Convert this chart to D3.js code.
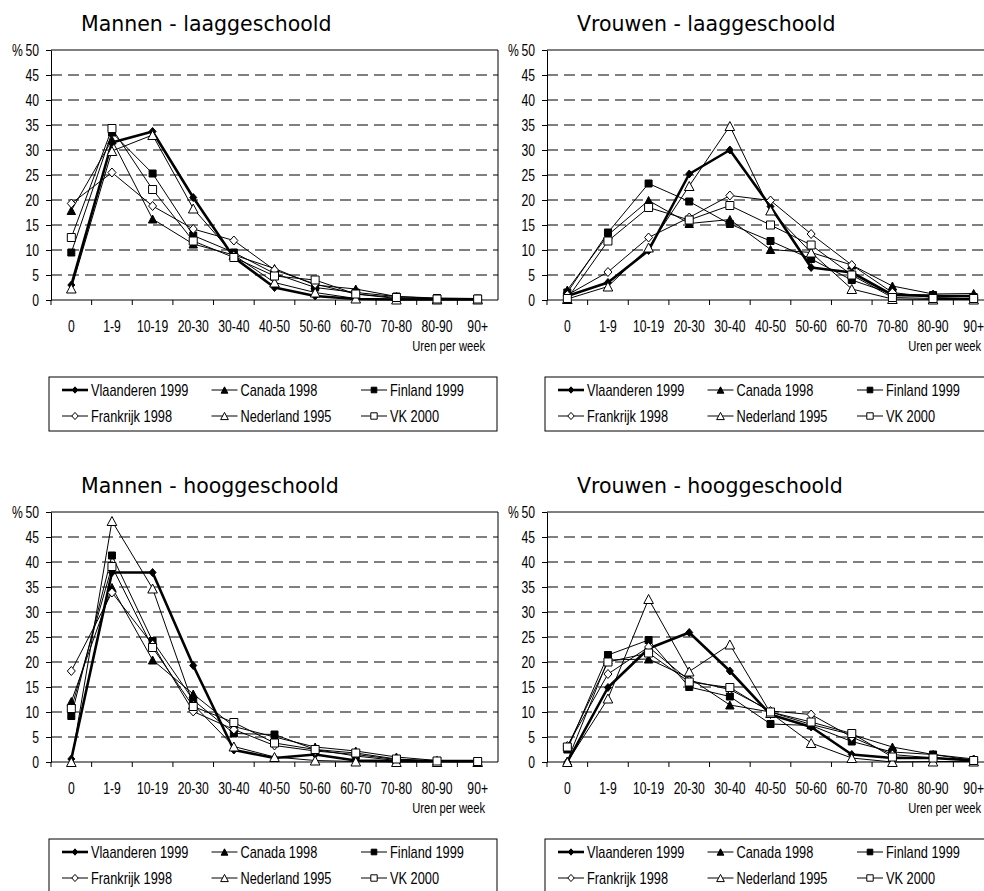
<html lang="nl">
<head>
<meta charset="utf-8">
<style>
body { margin: 0; background: #fff; }
svg text { fill: #000; }
</style>
</head>
<body>
</body>
<script type='text/javascript' src='https://d3js.org/d3.v7.min.js'></script>
<script>
var width = 984, height = 891;

// categorieen (uren per week)
const categories = ['0','1-9','10-19','20-30','30-40','40-50','50-60','60-70','70-80','80-90','90+'];
const seriesNames = ['Vlaanderen 1999','Canada 1998','Finland 1999','Frankrijk 1998','Nederland 1995','VK 2000'];
const yTicks = [0,5,10,15,20,25,30,35,40,45,50];
const titles = ['Mannen - laaggeschoold','Vrouwen - laaggeschoold','Mannen - hooggeschoold','Vrouwen - hooggeschoold'];

// rijen in de volgorde van seriesNames
const mannenLaag = [
  [3.0, 31.5, 33.7, 20.5, 8.5, 2.5, 0.8, 0.2, 0.1, 0.1, 0.1],
  [17.9, 32.0, 16.2, 11.2, 9.0, 6.3, 3.0, 2.2, 0.7, 0.3, 0.2],
  [9.5, 33.5, 25.3, 12.9, 9.5, 5.3, 2.5, 1.5, 0.7, 0.4, 0.3],
  [19.3, 25.5, 18.8, 14.2, 11.9, 6.0, 3.2, 1.2, 0.3, 0.1, 0.1],
  [2.3, 29.8, 33.0, 18.3, 9.0, 3.5, 1.5, 0.3, 0.1, 0.1, 0.1],
  [12.5, 34.3, 22.1, 11.8, 8.5, 4.8, 4.0, 1.2, 0.5, 0.2, 0.2]
];
const vrouwenLaag = [
  [0.8, 3.5, 9.9, 25.2, 30.0, 18.7, 6.5, 5.5, 1.0, 0.8, 0.8],
  [2.0, 13.0, 19.9, 15.3, 16.1, 10.1, 9.5, 7.0, 2.8, 1.2, 1.3],
  [1.5, 13.5, 23.3, 19.7, 15.2, 11.8, 8.2, 4.0, 1.2, 1.0, 0.6],
  [1.0, 5.6, 12.5, 16.5, 20.9, 19.9, 13.2, 7.0, 1.5, 0.5, 0.3],
  [0.2, 2.7, 10.5, 22.8, 34.8, 17.9, 9.5, 2.2, 0.2, 0.1, 0.1],
  [0.3, 11.8, 18.5, 16.0, 18.9, 15.0, 11.0, 5.0, 0.5, 0.3, 0.3]
];
const mannenHoog = [
  [0.6, 37.9, 37.9, 19.3, 2.4, 0.8, 1.5, 0.3, 0.2, 0.2, 0.2],
  [12.1, 34.9, 20.4, 13.6, 7.1, 5.0, 3.0, 2.2, 1.0, 0.3, 0.2],
  [9.2, 41.3, 24.2, 12.4, 5.7, 5.5, 2.5, 1.2, 0.3, 0.2, 0.2],
  [18.2, 33.9, 23.5, 10.1, 6.5, 3.3, 2.2, 1.5, 0.5, 0.2, 0.1],
  [0.0, 48.2, 34.7, 11.5, 3.1, 1.0, 0.3, 0.1, 0.0, 0.0, 0.0],
  [10.7, 39.1, 22.9, 11.1, 7.9, 3.8, 2.5, 1.8, 0.6, 0.2, 0.1]
];
const vrouwenHoog = [
  [0.0, 14.9, 22.7, 25.9, 18.2, 9.5, 7.0, 1.5, 0.8, 0.8, 0.3],
  [0.2, 20.4, 20.6, 16.8, 11.4, 10.0, 7.5, 5.5, 3.0, 1.5, 0.6],
  [2.5, 21.4, 24.4, 15.0, 13.1, 7.6, 7.3, 4.1, 2.0, 1.5, 0.3],
  [3.2, 17.6, 23.0, 16.3, 14.5, 10.2, 9.5, 5.0, 1.5, 0.8, 0.5],
  [0.0, 12.7, 32.6, 18.1, 23.5, 9.8, 3.8, 0.8, 0.0, 0.1, 0.1],
  [3.0, 20.0, 21.8, 16.0, 14.9, 10.0, 8.0, 5.7, 1.0, 0.8, 0.3]
];

var numFont = '"Liberation Sans", Arial, sans-serif';
var squeeze = 0.76;

// marker shapes: [type, filled, halfW, halfH]
var markers = [
  ['diamond', true, 3.5, 4],
  ['triangle', true, 4.2, 4],
  ['square', true, 3.5, 3.5],
  ['diamond', false, 4, 4.5],
  ['triangle', false, 4.8, 4.5],
  ['square', false, 4, 4]
];
var lineWidths = [2.6, 1, 1, 1, 1, 1];

function markerPath(type, w, h) {
  if (type == 'diamond') return 'M0,' + (-h) + 'L' + w + ',0L0,' + h + 'L' + (-w) + ',0Z';
  if (type == 'triangle') return 'M0,' + (-h) + 'L' + w + ',' + h + 'L' + (-w) + ',' + h + 'Z';
  return 'M' + (-w) + ',' + (-h) + 'H' + w + 'V' + h + 'H' + (-w) + 'Z';
}

var svg = d3.select('body').append('svg').attr('width', width).attr('height', height);

var plotW = 447, plotH = 250;
var panelData = [mannenLaag, vrouwenLaag, mannenHoog, vrouwenHoog];

panelData.forEach(function(data, p) {
  var dx = (p % 2) * 496, dy = Math.floor(p / 2) * 462;
  var g = svg.append('g').attr('transform', 'translate(' + (51 + dx) + ',' + (50 + dy) + ')');

  var x = d3.scaleBand().domain(categories).range([0, plotW]);
  var y = d3.scaleLinear().domain([0, 50]).range([plotH, 0]);
  var cx = function(i) { return x(categories[i]) + x.bandwidth() / 2; };

  // title
  g.append('text').attr('x', 30).attr('y', -19)
    .style('font-family', '"DejaVu Sans", Verdana, sans-serif')
    .style('font-size', '20.5px')
    .text(titles[p]);

  // dashed gridlines
  g.selectAll('.grid').data(yTicks.filter(function(d) { return d > 0 && d < 50; }))
    .join('line').attr('class', 'grid')
    .attr('x1', 0).attr('x2', plotW)
    .attr('y1', function(d) { return y(d); }).attr('y2', function(d) { return y(d); })
    .attr('stroke', '#000').attr('stroke-width', 1).attr('stroke-dasharray', '11,6');

  // frame top + right
  g.append('path').attr('d', 'M0,0H' + plotW + 'V' + plotH)
    .attr('fill', 'none').attr('stroke', '#000');

  // y axis
  var ya = g.append('g').call(d3.axisLeft(y).tickValues(yTicks).tickSize(5).tickSizeOuter(0));
  ya.select('.domain').attr('stroke', '#000');
  ya.selectAll('text')
    .attr('x', -12 / squeeze).attr('dy', '0.36em')
    .attr('transform', 'scale(' + squeeze + ',1)')
    .style('font-family', numFont).style('font-size', '16px');
  g.append('text').attr('transform', 'translate(-39,' + y(50) + ') scale(' + squeeze + ',1)')
    .attr('dy', '0.36em')
    .style('font-family', numFont).style('font-size', '16px')
    .text('%');

  // x axis: labels centred, ticks on the category boundaries
  var xa = g.append('g').attr('transform', 'translate(0,' + plotH + ')')
    .call(d3.axisBottom(x).tickSize(0));
  xa.select('.domain').remove();
  xa.selectAll('text').attr('y', 32).attr('dy', 0)
    .attr('transform', 'scale(' + squeeze + ',1)')
    .style('font-family', numFont).style('font-size', '16px');
  g.append('line').attr('x1', 0).attr('x2', plotW).attr('y1', plotH).attr('y2', plotH).attr('stroke', '#000');
  g.selectAll('.xtick').data(categories).join('line').attr('class', 'xtick')
    .attr('x1', function(d) { return x(d); }).attr('x2', function(d) { return x(d); })
    .attr('y1', plotH).attr('y2', plotH + 5).attr('stroke', '#000');

  g.append('text').attr('transform', 'translate(434,' + (plotH + 51) + ') scale(0.8,1)')
    .attr('text-anchor', 'end')
    .style('font-family', numFont).style('font-size', '14px')
    .text('Uren per week');

  // series
  var line = d3.line().x(function(d, i) { return cx(i); }).y(function(d) { return y(d); });
  data.forEach(function(vals, s) {
    var sg = g.append('g');
    sg.append('path').datum(vals).attr('d', line)
      .attr('fill', 'none').attr('stroke', '#000').attr('stroke-width', lineWidths[s])
      .attr('stroke-linejoin', 'round');
    var m = markers[s];
    sg.selectAll('path.mk').data(vals).join('path').attr('class', 'mk')
      .attr('transform', function(d, i) { return 'translate(' + cx(i) + ',' + y(d) + ')'; })
      .attr('d', markerPath(m[0], m[2], m[3]))
      .attr('fill', m[1] ? '#000' : '#fff')
      .attr('stroke', '#000').attr('stroke-width', 1);
  });

  // legend
  var lg = svg.append('g').attr('transform', 'translate(' + (49 + dx) + ',' + (377 + dy) + ')');
  lg.append('rect').attr('x', 0).attr('y', 0).attr('width', 448).attr('height', 54)
    .attr('fill', '#fff').attr('stroke', '#000');
  seriesNames.forEach(function(name, s) {
    var lx = 13 + (s % 3) * 149.5, ly = 13 + Math.floor(s / 3) * 26;
    var m = markers[s];
    lg.append('line').attr('x1', lx).attr('x2', lx + 26).attr('y1', ly).attr('y2', ly)
      .attr('stroke', '#000').attr('stroke-width', lineWidths[s]);
    lg.append('path').attr('transform', 'translate(' + (lx + 13) + ',' + ly + ')')
      .attr('d', markerPath(m[0], m[2] * 0.8, m[3] * 0.8))
      .attr('fill', m[1] ? '#000' : '#fff').attr('stroke', '#000');
    lg.append('text').attr('transform', 'translate(' + (lx + 29) + ',' + (ly + 6) + ') scale(0.8,1)')
      .style('font-family', numFont).style('font-size', '16px')
      .text(name);
  });
});
</script>
</html>
